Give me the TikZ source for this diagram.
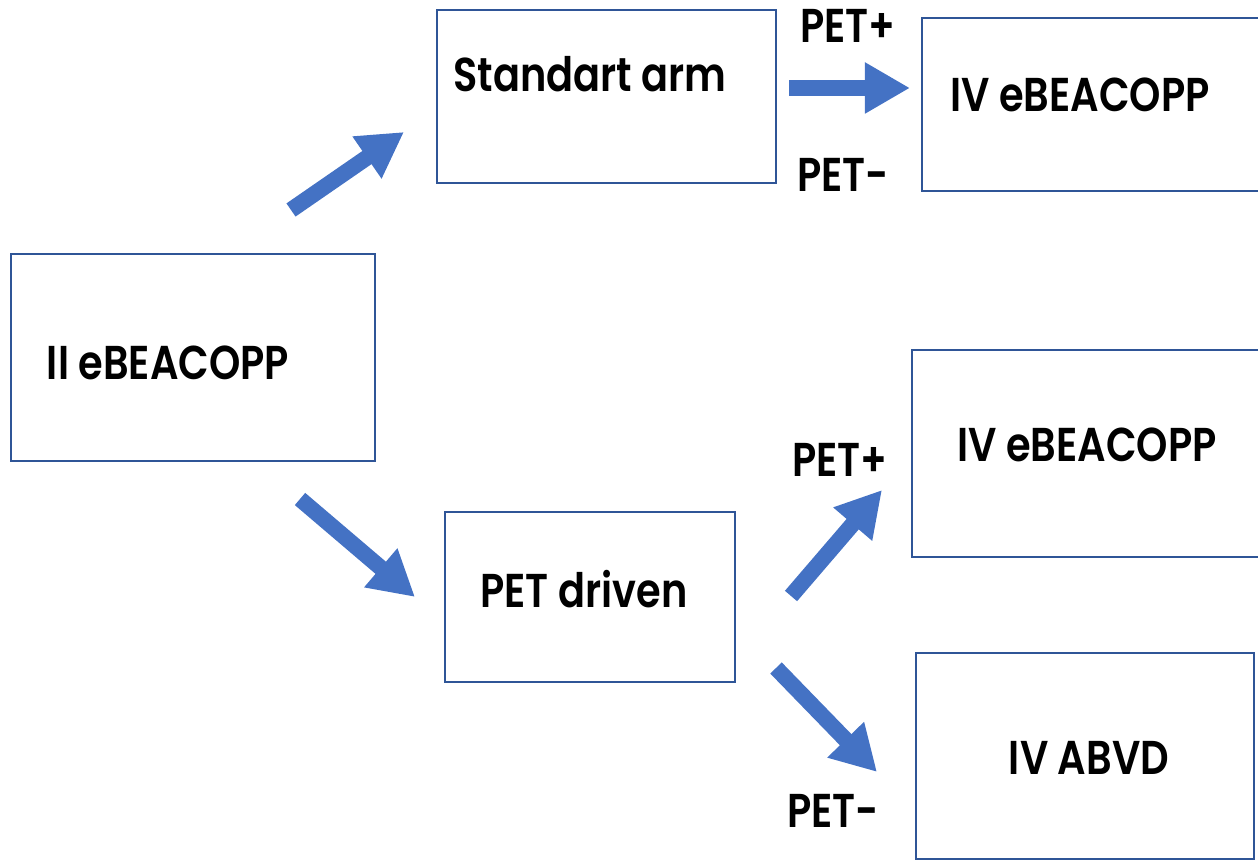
\documentclass[tikz,border=0pt]{standalone}
\usepackage{fontspec}
\setmainfont{Poppins}[BoldFont={* SemiBold},BoldFeatures={FakeStretch=0.84}]
\usetikzlibrary{arrows.meta}
\definecolor{boxline}{HTML}{2F5597}
\definecolor{arrowblue}{HTML}{4472C4}
\begin{document}
\begin{tikzpicture}[x=0.01cm,y=-0.01cm,
  boxnode/.style={draw=boxline,line width=0.7pt,fill=white,inner sep=0pt},
  lbl/.style={anchor=base,inner sep=0pt,font=\bfseries\fontsize{13.5}{16}\selectfont},
  blockarrow/.style={draw=arrowblue,line width=0.16cm,
    -{Triangle[length=0.45cm,width=0.48cm]}}]
\useasboundingbox (0,0) rectangle (1258,862);
\clip (0,0) rectangle (1258,862);
% boxes
\node[boxnode,minimum width=3.39cm,minimum height=1.73cm] (bstd) at (606.5,96.5) {};
\node[boxnode,minimum width=3.48cm,minimum height=1.73cm] (btop) at (1096,104.5) {};
\node[boxnode,minimum width=3.64cm,minimum height=2.07cm] (bii) at (193,357.5) {};
\node[boxnode,minimum width=3.58cm,minimum height=2.07cm] (bmid) at (1091,453.5) {};
\node[boxnode,minimum width=2.90cm,minimum height=1.70cm] (bpet) at (590,597) {};
\node[boxnode,minimum width=3.38cm,minimum height=2.06cm] (babvd) at (1085,756) {};
% labels
\node[lbl] (tstd) at (590,92) {Standart arm};
\node[lbl] (ttop) at (1080,112) {IV eBEACOPP};
\node[lbl] (tii) at (168,380) {II eBEACOPP};
\node[lbl] (tmid) at (1087,462) {IV eBEACOPP};
\node[lbl] (tpet) at (584,608) {PET driven};
\node[lbl] (tabvd) at (1089,775) {IV ABVD};
\node[lbl] (p1) at (848,43) {PET+};
\node[lbl] (m1) at (843,192) {PET-};
\node[lbl] (p2) at (840,477) {PET+};
\node[lbl] (m2) at (833,828) {PET-};
% arrow end points
\coordinate (a1s) at (291,210);
\coordinate (a1e) at (404,132);
\coordinate (a2s) at (789,88);
\coordinate (a2e) at (910,88);
\coordinate (a3s) at (300,499);
\coordinate (a3e) at (415,597);
\coordinate (a4s) at (791,596);
\coordinate (a4e) at (882,490);
\coordinate (a5s) at (776,668);
\coordinate (a5e) at (877,772);
\draw[blockarrow] (a1s) -- (a1e);
\draw[blockarrow] (a2s) -- (a2e);
\draw[blockarrow] (a3s) -- (a3e);
\draw[blockarrow] (a4s) -- (a4e);
\draw[blockarrow] (a5s) -- (a5e);
\end{tikzpicture}
\end{document}
